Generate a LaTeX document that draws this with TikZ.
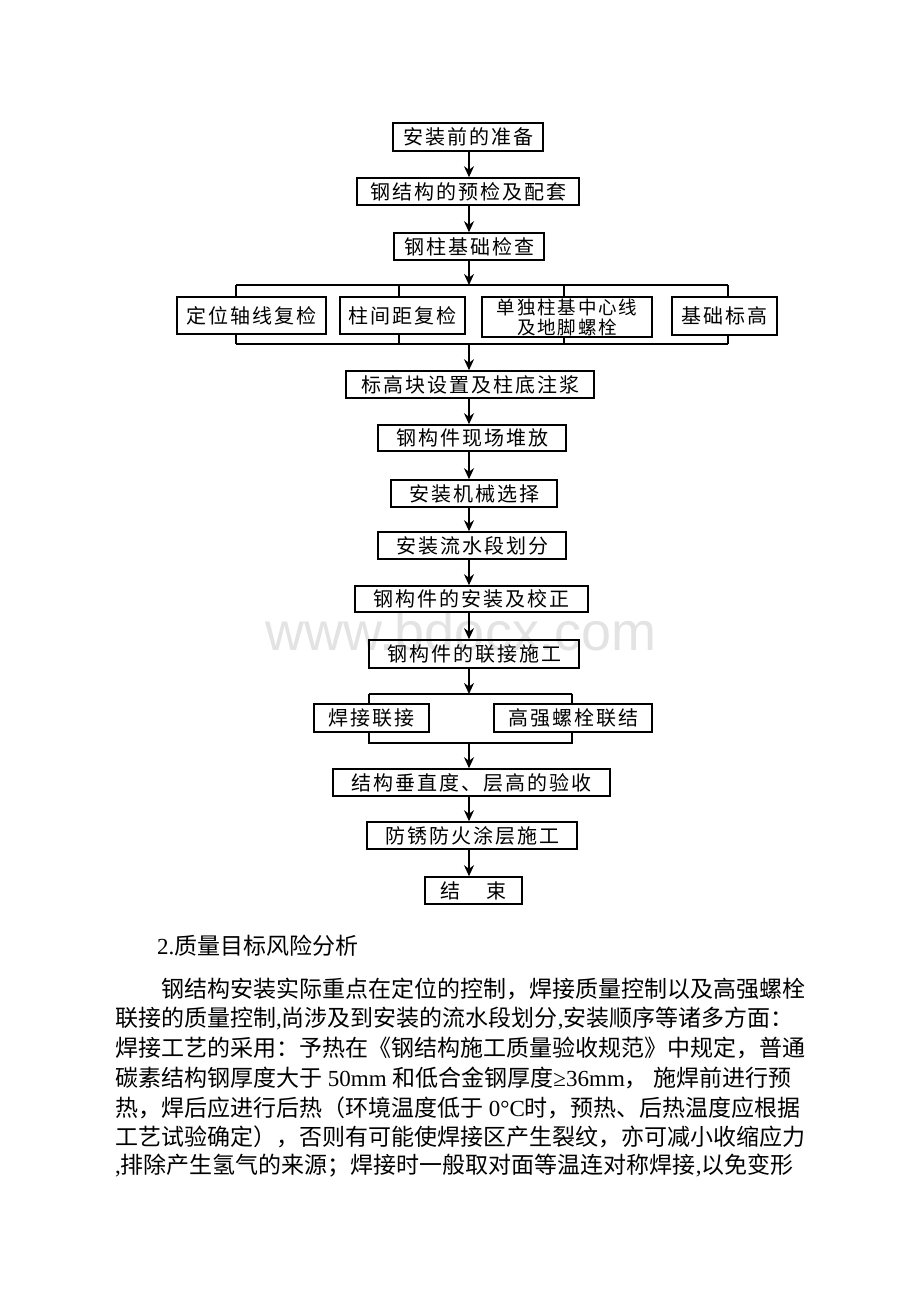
\documentclass[tikz,border=0pt]{standalone}
\usepackage{fontspec}
\setmainfont{Liberation Serif}
\newfontfamily\cjk{Noto Sans CJK SC}
\newfontfamily\boxcjk[LetterSpace=10]{Noto Sans CJK SC}
\newfontfamily\latinfont{Liberation Serif}
\newfontfamily\markfont{Liberation Sans}
\newcommand\lat[1]{{\latinfont #1}}
\usetikzlibrary{arrows.meta}
\tikzset{
  stage/.style={draw, line width=1.6pt, inner sep=0pt, font=\boxcjk\fontsize{20}{21}\selectfont},
  flow/.style={line width=1.6pt, -{Stealth[length=11pt,width=10pt]}},
  bus/.style={line width=1.6pt},
  para/.style={anchor=west, inner sep=0pt, font=\cjk\fontsize{23}{23}\selectfont}
}
\begin{document}
\begin{tikzpicture}[x=1pt,y=-1pt]
\useasboundingbox (0,0) rectangle (920,1302);
\node[font=\markfont\fontsize{54}{54}\selectfont, text=gray!22] (wm) at (461,631) {www.bdocx.com};

\coordinate (s) at (469,0);

\node[stage, minimum width=150, minimum height=28] (a) at (468,137) {安装前的准备};
\node[stage, minimum width=222, minimum height=27] (b) at (468,191.5) {钢结构的预检及配套};
\path[draw,flow] (a.south -| s) -- (b.north -| s);
\node[stage, minimum width=150, minimum height=27] (c) at (469,246.5) {钢柱基础检查};
\path[draw,flow] (b.south -| s) -- (c.north -| s);

\coordinate (t1) at (236,285);
\coordinate (t2) at (399,285);
\coordinate (t3) at (564,285);
\coordinate (t4) at (728,285);
\coordinate (tm) at (469,285);
\path[draw,flow] (c.south -| s) -- (tm);
\path[draw,bus] (t1) -- (t4);

\node[stage, minimum width=149, minimum height=37] (d) at (251.5,315.5) {定位轴线复检};
\path[draw,bus] (t1) -- (t1 |- d.north);
\node[stage, minimum width=125, minimum height=37] (e) at (402.5,315.5) {柱间距复检};
\path[draw,bus] (t2) -- (t2 |- e.north);
\node[stage, minimum width=170, minimum height=40, align=center, font=\boxcjk\fontsize{18.5}{20}\selectfont] (f) at (567,317) {单独柱基中心线\\及地脚螺栓};
\path[draw,bus] (t3) -- (t3 |- f.north);
\node[stage, minimum width=105, minimum height=38] (g) at (724.5,316) {基础标高};
\path[draw,bus] (t4) -- (t4 |- g.north);

\coordinate (u1) at (236,344);
\coordinate (u2) at (399,344);
\coordinate (u3) at (564,344);
\coordinate (u4) at (728,344);
\coordinate (um) at (469,344);
\path[draw,bus] (u1) -- (u4);
\path[draw,bus] (u1 |- d.south) -- (u1);
\path[draw,bus] (u2 |- e.south) -- (u2);
\path[draw,bus] (u3 |- f.south) -- (u3);
\path[draw,bus] (u4 |- g.south) -- (u4);

\node[stage, minimum width=248, minimum height=27] (h) at (470,384.5) {标高块设置及柱底注浆};
\path[draw,flow] (um) -- (h.north -| s);
\node[stage, minimum width=188, minimum height=26] (i) at (472,438) {钢构件现场堆放};
\path[draw,flow] (h.south -| s) -- (i.north -| s);
\node[stage, minimum width=166, minimum height=27] (j) at (474,493.5) {安装机械选择};
\path[draw,flow] (i.south -| s) -- (j.north -| s);
\node[stage, minimum width=188, minimum height=27] (k) at (472,545.5) {安装流水段划分};
\path[draw,flow] (j.south -| s) -- (k.north -| s);
\node[stage, minimum width=233, minimum height=26] (l) at (471.5,599) {钢构件的安装及校正};
\path[draw,flow] (k.south -| s) -- (l.north -| s);
\node[stage, minimum width=210, minimum height=28] (m) at (474,654) {钢构件的联接施工};
\path[draw,flow] (l.south -| s) -- (m.north -| s);

\coordinate (v1) at (369,694);
\coordinate (v2) at (572,694);
\coordinate (vm) at (469,694);
\path[draw,flow] (m.south -| s) -- (vm);
\path[draw,bus] (v1) -- (v2);
\node[stage, minimum width=115, minimum height=28] (n) at (371.5,718) {焊接联接};
\path[draw,bus] (v1) -- (v1 |- n.north);
\node[stage, minimum width=158, minimum height=28] (o) at (573,718) {高强螺栓联结};
\path[draw,bus] (v2) -- (v2 |- o.north);

\coordinate (w1) at (369,743);
\coordinate (w2) at (572,743);
\coordinate (wm2) at (469,743);
\path[draw,bus] (w1 |- n.south) -- (w1) -- (w2) -- (w2 |- o.south);

\node[stage, minimum width=277, minimum height=27] (p) at (471.5,782.5) {结构垂直度、层高的验收};
\path[draw,flow] (wm2) -- (p.north -| s);
\node[stage, minimum width=210, minimum height=27] (q) at (472,835.5) {防锈防火涂层施工};
\path[draw,flow] (p.south -| s) -- (q.north -| s);
\node[stage, minimum width=97, minimum height=27] (r) at (473.5,890.5) {结\hspace{1.3em}束};
\path[draw,flow] (q.south -| s) -- (r.north -| s);

\node[para] (x0) at (157,946) {\lat{2.}质量目标风险分析};
\node[para] (x1) at (161,989) {钢结构安装实际重点在定位的控制，焊接质量控制以及高强螺栓};
\node[para] (x2) at (115,1019) {联接的质量控制\lat{,}尚涉及到安装的流水段划分\lat{,}安装顺序等诸多方面：};
\node[para] (x3) at (115,1048) {焊接工艺的采用：予热在《钢结构施工质量验收规范》中规定，普通};
\node[para] (x4) at (115,1078) {碳素结构钢厚度大于\lat{~50mm~}和低合金钢厚度\lat{≥36mm}，\lat{~}施焊前进行预};
\node[para] (x5) at (115,1108) {热，焊后应进行后热（环境温度低于\lat{~0°C}时，预热、后热温度应根据};
\node[para] (x6) at (115,1137) {工艺试验确定），否则有可能使焊接区产生裂纹，亦可减小收缩应力};
\node[para] (x7) at (115,1166) {\lat{,}排除产生氢气的来源；焊接时一般取对面等温连对称焊接\lat{,}以免变形};
\end{tikzpicture}
\end{document}
